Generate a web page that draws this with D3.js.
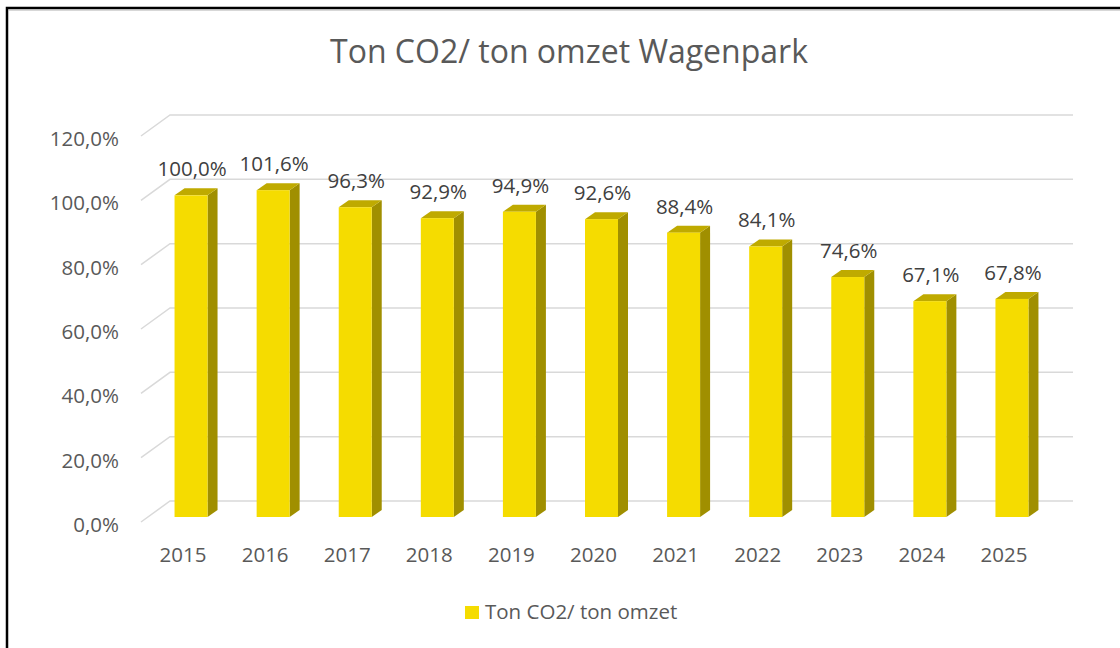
<!DOCTYPE html>
<html>
<head>
<meta charset="utf-8">
<script src="https://cdn.jsdelivr.net/npm/d3@7"></script>
<style>
  body { margin: 0; background: #fff; }
  text { font-family: "Open Sans", sans-serif; }
</style>
</head>
<body>
<svg id="chart" width="1120" height="648"></svg>
<script>
// Chart data
const years = ["2015", "2016", "2017", "2018", "2019", "2020", "2021", "2022", "2023", "2024", "2025"];
const values = [100.0, 101.6, 96.3, 92.9, 94.9, 92.6, 88.4, 84.1, 74.6, 67.1, 67.8];
const yTicks = [0, 20, 40, 60, 80, 100, 120];
const seriesName = "Ton CO2/ ton omzet";
const title = "Ton CO2/ ton omzet Wagenpark";

// 3D look: wall depth and bar depth offsets
const wall = { dx: 29, dy: -21 };
const barShift = { dx: 9, dy: -5 };
const barDepth = { dx: 10, dy: -7 };
const barWidth = 33;

const svg = d3.select("#chart");

// Scales (front plane)
const xScale = d3.scaleBand().domain(years).range([141, 1044]);
const yScale = d3.scaleLinear().domain([0, 120]).range([522, 136]);

const pct = (v) => d3.format(".1f")(v).replace(".", ",") + "%";

// Border
svg.append("rect")
  .attr("x", 7).attr("y", 8)
  .attr("width", 1130).attr("height", 660)
  .attr("fill", "none").attr("stroke", "#000").attr("stroke-width", 2.5);
svg.append("line")
  .attr("x1", 8.5).attr("x2", 1120).attr("y1", 10).attr("y2", 10)
  .attr("stroke", "#b0b0b0").attr("stroke-width", 1);

// Title
svg.append("text")
  .attr("x", 569).attr("y", 63)
  .attr("text-anchor", "middle")
  .attr("font-size", 32)
  .attr("fill", "#595959")
  .text(title);

// Gridlines: side wall diagonal + back wall line
svg.append("g")
  .selectAll("polyline")
  .data(yTicks)
  .join("polyline")
  .attr("points", (d) => {
    const y0 = yScale(d);
    const [x0, x1] = xScale.range();
    return `${x0},${y0} ${x0 + wall.dx},${y0 + wall.dy} ${x1 + wall.dx},${y0 + wall.dy}`;
  })
  .attr("fill", "none")
  .attr("stroke", "#d9d9d9")
  .attr("stroke-width", 1.5);

// Y tick labels
svg.append("g")
  .selectAll("text")
  .data(yTicks)
  .join("text")
  .attr("x", 119)
  .attr("y", (d) => yScale(d) + 10)
  .attr("text-anchor", "end")
  .attr("font-size", 20.5)
  .attr("fill", "#595959")
  .text((d) => pct(d));

// Bars
const bars = svg.append("g")
  .selectAll("g")
  .data(years.map((y, i) => ({ year: y, value: values[i] })))
  .join("g");

const geo = (d) => {
  const x0 = xScale(d.year) + xScale.bandwidth() / 2 + barShift.dx - barWidth / 2;
  const yb = yScale(0) + barShift.dy;
  const yt = yb - (yScale(0) - yScale(d.value));
  return { x0, x1: x0 + barWidth, yb, yt };
};

bars.append("polygon")
  .attr("points", (d) => {
    const g = geo(d);
    return `${g.x1},${g.yt} ${g.x1 + barDepth.dx},${g.yt + barDepth.dy} ${g.x1 + barDepth.dx},${g.yb + barDepth.dy} ${g.x1},${g.yb}`;
  })
  .attr("fill", "#a08f00");

bars.append("polygon")
  .attr("points", (d) => {
    const g = geo(d);
    return `${g.x0},${g.yt} ${g.x0 + barDepth.dx},${g.yt + barDepth.dy} ${g.x1 + barDepth.dx},${g.yt + barDepth.dy} ${g.x1},${g.yt}`;
  })
  .attr("fill", "#bfaa00");

bars.append("rect")
  .attr("x", (d) => geo(d).x0)
  .attr("y", (d) => geo(d).yt)
  .attr("width", barWidth)
  .attr("height", (d) => geo(d).yb - geo(d).yt)
  .attr("fill", "#f5dc00");

// Data labels
bars.append("text")
  .attr("x", (d) => geo(d).x0 + barWidth / 2 + 1)
  .attr("y", (d) => geo(d).yt - 19)
  .attr("text-anchor", "middle")
  .attr("font-size", 20.5)
  .attr("fill", "#404040")
  .text((d) => pct(d.value));

// Category labels
svg.append("g")
  .selectAll("text")
  .data(years)
  .join("text")
  .attr("x", (d) => xScale(d) + xScale.bandwidth() / 2 + 1)
  .attr("y", 562)
  .attr("text-anchor", "middle")
  .attr("font-size", 20.5)
  .attr("fill", "#595959")
  .text((d) => d);

// Legend
const legend = svg.append("g");
legend.append("rect")
  .attr("x", 465).attr("y", 606)
  .attr("width", 14).attr("height", 13)
  .attr("fill", "#f5dc00");
legend.append("text")
  .attr("x", 485).attr("y", 619)
  .attr("font-size", 20.5)
  .attr("fill", "#595959")
  .text(seriesName);
</script>
</body>
</html>
